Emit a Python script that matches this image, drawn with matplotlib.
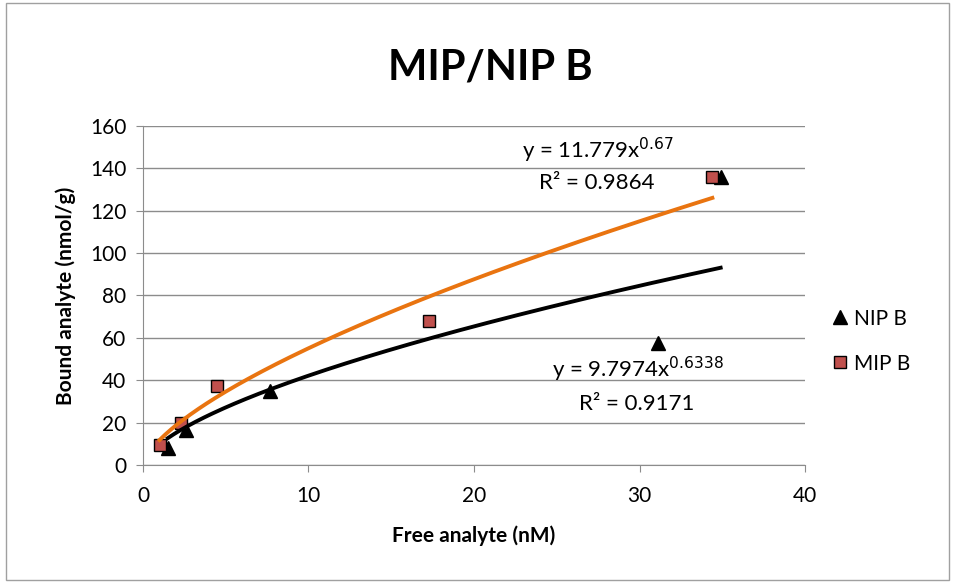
import matplotlib.pyplot as plt
import numpy as np
from matplotlib.patches import Rectangle

plt.rcParams["font.family"] = ["Lato", "DejaVu Sans"]

nip_x = [1.5, 2.6, 7.7, 31.1, 34.9]
nip_y = [8.0, 16.5, 35.0, 57.6, 136.0]
mip_x = [1.0, 2.3, 4.5, 17.3, 34.4]
mip_y = [9.4, 19.8, 37.3, 68.0, 136.0]

# power trendlines shown on the chart
nip_a, nip_b = 9.7974, 0.6338
mip_a, mip_b = 11.779, 0.67

fig = plt.figure(figsize=(9.55, 5.83), dpi=100)
ax = fig.add_axes([0.1497, 0.2024, 0.6933, 0.5815])

ax.plot(nip_x, nip_y, linestyle="none", marker="^", markersize=10,
        color="black", label="NIP B", zorder=3)
ax.plot(mip_x, mip_y, linestyle="none", marker="s", markersize=9,
        markerfacecolor="#C0504D", markeredgecolor="black",
        markeredgewidth=1.0, label="MIP B", zorder=4)

xs = np.linspace(min(nip_x), max(nip_x), 200)
ax.plot(xs, nip_a * xs ** nip_b, color="black", linewidth=2.8, zorder=5)
xs = np.linspace(min(mip_x), max(mip_x), 200)
ax.plot(xs, mip_a * xs ** mip_b, color="#E97410", linewidth=2.8, zorder=6)

ax.set_xlim(0, 40)
ax.set_ylim(0, 160)
ax.set_xticks(range(0, 41, 10))
ax.set_yticks(range(0, 161, 20))
ax.grid(axis="y", color="#8C8C8C", linewidth=1.0)
ax.set_axisbelow(True)
for side in ["top", "right"]:
    ax.spines[side].set_visible(False)
for side in ["left", "bottom"]:
    ax.spines[side].set_color("#8C8C8C")
ax.tick_params(axis="both", labelsize=15, color="#8C8C8C", length=5)
ax.tick_params(axis="x", pad=10)
ax.tick_params(axis="y", pad=7)

ax.set_xlabel("Free analyte (nM)", fontsize=15, fontweight="bold", labelpad=14)
ax.set_ylabel("Bound analyte (nmol/g)", fontsize=15, fontweight="bold", labelpad=10)
fig.text(0.513, 0.885, "MIP/NIP B", ha="center", va="center",
         fontsize=30, fontweight="bold")

ax.text(27.5, 148.5, r"y = 11.779x$^{0.67}$", ha="center", va="center", fontsize=16)
ax.text(27.4, 133, "R² = 0.9864", ha="center", va="center", fontsize=16)
ax.text(29.9, 45, r"y = 9.7974x$^{0.6338}$", ha="center", va="center", fontsize=16)
ax.text(29.8, 29, "R² = 0.9171", ha="center", va="center", fontsize=16)

ax.legend(loc="center left", bbox_to_anchor=(1.005, 0.365), frameon=False,
          fontsize=15, handletextpad=0.1, labelspacing=1.2, handlelength=1.2)

fig.patches.append(Rectangle((0.006, 0.005), 0.988, 0.99, transform=fig.transFigure,
                             fill=False, edgecolor="#A0A0A0", linewidth=1.0))

fig.savefig("out.png", dpi=100)
